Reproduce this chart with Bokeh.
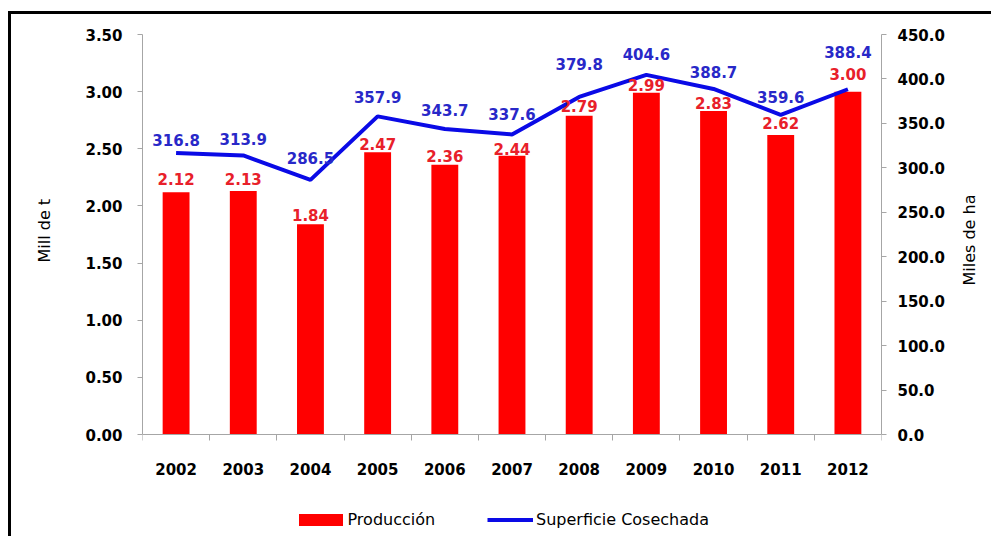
import math
from bokeh.plotting import figure
from bokeh.models import (LinearAxis, Range1d, FixedTicker, ColumnDataSource, Legend,
                          LegendItem, NumeralTickFormatter, InlineStyleSheet, Title)
from bokeh.embed import file_html
from bokeh.resources import INLINE
from bokeh.core.properties import value

# ---- data ----
years = ["2002", "2003", "2004", "2005", "2006", "2007", "2008", "2009", "2010", "2011", "2012"]
produccion = [2.12, 2.13, 1.84, 2.47, 2.36, 2.44, 2.79, 2.99, 2.83, 2.62, 3.00]
superficie = [316.8, 313.9, 286.5, 357.9, 343.7, 337.6, 379.8, 404.6, 388.7, 359.6, 388.4]
left_ticks = [0.0, 0.5, 1.0, 1.5, 2.0, 2.5, 3.0, 3.5]
right_ticks = [0.0, 50.0, 100.0, 150.0, 200.0, 250.0, 300.0, 350.0, 400.0, 450.0]

# label placement (pixels above the mark) - layout only
red_dy = [13, 12, 9, 8, 9, 7, 10, 8, 8, 12, 18]
blue_dy = [13, 16, 22, 19, 19, 20, 33, 21, 17, 18, 37]

FONT = "DejaVu Sans"
AXIS_GRAY = "#a6a6a6"

# layout (pixels)
W, H = 991, 536
TOP, LEFT, RIGHT = 34, 142, 109
AXIS_Y = 434               # pixel row of the zero line
plot_px = AXIS_Y - TOP     # pixels used by the value range
below_px = H - AXIS_Y      # pixels under the zero line (labels + legend)
LEFT_TITLE_START = 262     # pixel row where the rotated left title begins

n = len(years)
xs = list(range(n))
src = ColumnDataSource(dict(
    x=xs, prod=produccion, sup=superficie,
    prod_lbl=[f"{v:.2f}" for v in produccion],
    sup_lbl=[f"{v:.1f}" for v in superficie],
    red_off=[-d for d in red_dy], blue_off=[-d for d in blue_dy],
))

lmax, rmax = left_ticks[-1], right_ticks[-1]
p = figure(width=W, height=H, output_backend="svg", toolbar_location=None,
           x_range=Range1d(-0.5, n - 0.5),
           y_range=Range1d(-lmax * below_px / plot_px, lmax),
           min_border_left=LEFT, min_border_right=RIGHT, min_border_top=TOP, min_border_bottom=0)
p.extra_y_ranges = {"ha": Range1d(-rmax * below_px / plot_px, rmax)}
p.outline_line_color = None
p.grid.visible = False
p.background_fill_color = "white"
p.border_fill_color = "white"

bars = p.vbar(x="x", top="prod", bottom=0, width=0.4, source=src, fill_color="#ff0000", line_color=None)
line = p.line(x="x", y="sup", source=src, y_range_name="ha", line_color="#0a0ae6", line_width=4)

p.text(x="x", y="prod", text="prod_lbl", source=src, y_offset="red_off",
       text_align="center", text_baseline="middle", text_color="#e8202a",
       text_font=value(FONT), text_font_style="bold", text_font_size="15px")
p.text(x="x", y="sup", text="sup_lbl", source=src, y_offset="blue_off", y_range_name="ha",
       text_align="center", text_baseline="middle", text_color="#2828c8",
       text_font=value(FONT), text_font_style="bold", text_font_size="15px")

# x axis, drawn at the zero line
xa = p.xaxis[0]
xa.fixed_location = 0
xa.ticker = FixedTicker(ticks=xs, minor_ticks=[i - 0.5 for i in range(n + 1)])
xa.major_label_overrides = {i: y for i, y in enumerate(years)}
xa.major_tick_out = 0
xa.major_tick_in = 0
xa.minor_tick_out = 6
xa.minor_tick_in = 0
xa.minor_tick_line_color = AXIS_GRAY
xa.axis_line_color = AXIS_GRAY
xa.major_label_standoff = 22
xa.major_label_text_font = FONT
xa.major_label_text_font_style = "bold"
xa.major_label_text_font_size = "15px"
xa.major_label_text_color = "black"

# left axis
ya = p.yaxis[0]
ya.ticker = FixedTicker(ticks=left_ticks)
ya.formatter = NumeralTickFormatter(format="0.00")
ya.bounds = (left_ticks[0], left_ticks[-1])
ya.major_tick_out = 5
ya.major_tick_in = 0
ya.minor_tick_line_color = None
ya.major_tick_line_color = AXIS_GRAY
ya.axis_line_color = AXIS_GRAY
ya.major_label_standoff = 15
ya.major_label_text_font = FONT
ya.major_label_text_font_style = "bold"
ya.major_label_text_font_size = "15px"
ya.major_label_text_color = "black"

p.add_layout(Title(text="Mill de t", align="left", offset=H - LEFT_TITLE_START, standoff=58,
                   text_font=FONT, text_font_style="normal", text_font_size="16px",
                   text_color="black"), "left")

# right axis
ra = LinearAxis(y_range_name="ha", ticker=FixedTicker(ticks=right_ticks),
                formatter=NumeralTickFormatter(format="0.0"))
ra.bounds = (right_ticks[0], right_ticks[-1])
ra.major_tick_out = 5
ra.major_tick_in = 0
ra.minor_tick_line_color = None
ra.major_tick_line_color = AXIS_GRAY
ra.axis_line_color = AXIS_GRAY
ra.major_label_standoff = 11
ra.major_label_text_font = FONT
ra.major_label_text_font_style = "bold"
ra.major_label_text_font_size = "15px"
ra.major_label_text_color = "black"
ra.axis_label = "Miles de ha"
ra.axis_label_text_font = FONT
ra.axis_label_text_font_style = "normal"
ra.axis_label_text_font_size = "16px"
ra.axis_label_text_color = "black"
ra.axis_label_standoff = 22
ra.axis_label_orientation = math.pi / 2
p.add_layout(ra, "right")

# legends (one per item so each symbol gets its own width)
for item, gw, gh, vx, standoff in [(LegendItem(label="Producción", renderers=[bars]), 55, 15, 150.5, 0),
                                   (LegendItem(label="Superficie Cosechada", renderers=[line]), 46, 15, 345, 3)]:
    lg = Legend(items=[item], location=(vx, 7), orientation="horizontal",
                glyph_width=gw, glyph_height=gh, label_standoff=standoff,
                padding=0, margin=0, border_line_color=None, background_fill_alpha=0,
                label_text_font=FONT, label_text_font_size="16px", label_text_color="black")
    p.add_layout(lg, "center")

# outer frame line (left and top edges; the others run past the window)
p.stylesheets = [InlineStyleSheet(css=(
    ":host::after{content:'';position:absolute;left:8px;top:11px;right:0;bottom:0;"
    "border-left:3px solid black;border-top:3px solid black;pointer-events:none;z-index:10;}"))]

open("out.html", "w").write(file_html(p, INLINE))
